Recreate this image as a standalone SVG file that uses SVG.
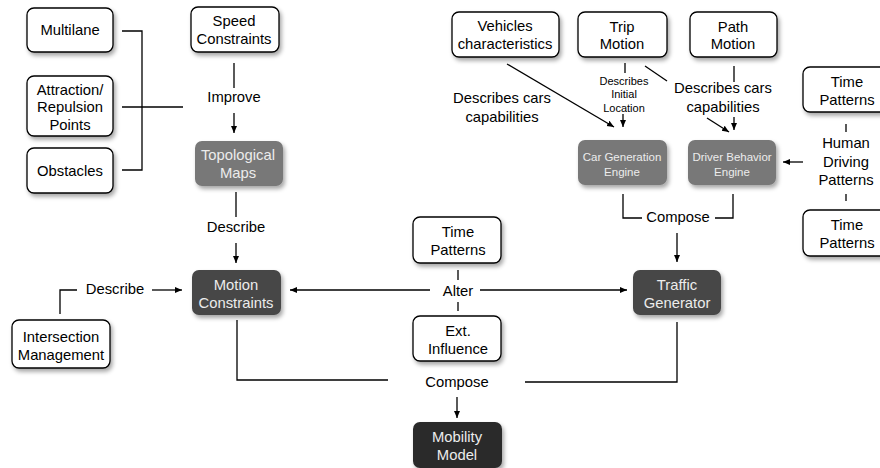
<svg xmlns="http://www.w3.org/2000/svg" width="880" height="468" viewBox="0 0 880 468">
<defs>
<filter id="sh" x="-20%" y="-20%" width="150%" height="160%">
<feDropShadow dx="2" dy="3" stdDeviation="2" flood-color="#000" flood-opacity="0.35"/>
</filter>
<marker id="ah" markerWidth="8" markerHeight="8" refX="7" refY="4" orient="auto" markerUnits="userSpaceOnUse">
<path d="M0,1 L7,4 L0,7 Z" fill="#000"/>
</marker>
<style>
text{font-family:"Liberation Sans",Arial,sans-serif;font-size:14.8px;text-anchor:middle;fill:#000}
.w{fill:#fff;stroke:#000;stroke-width:1.3}
.g{fill:#787878;stroke:none}
.d{fill:#474747;stroke:none}
.k{fill:#2a2a2a;stroke:none}
.lt{fill:#ececec}
.sm{font-size:11.5px}
.xs{font-size:11px}
.c{fill:none;stroke:#000;stroke-width:1.3}
.a{fill:none;stroke:#000;stroke-width:1.3;marker-end:url(#ah)}
</style>
</defs>

<g id="connectors">
<path class="c" d="M122,31 H142 V170 H122"/>
<path class="c" d="M122,107 H183"/>
<path class="c" d="M234,63 V88"/>
<path class="a" d="M234,113 V133"/>
<path class="c" d="M236,192 V217"/>
<path class="a" d="M236,243 V263"/>
<path class="c" d="M60,314 V290 H77"/>
<path class="a" d="M152,290 H182"/>
<path class="a" d="M430,290 H290"/>
<path class="a" d="M480,290 H627"/>
<path class="c" d="M458,270 V280"/>
<path class="c" d="M458,302 V311"/>
<path class="c" d="M237,320 V380 H388"/>
<path class="c" d="M525,382 H677 V322"/>
<path class="a" d="M457,397 V418"/>
<path class="c" d="M623,194 V218 H642"/>
<path class="c" d="M715,218 H733 V194"/>
<path class="a" d="M677,233 V262"/>
<path class="a" d="M803,162 H783"/>
<path class="c" d="M846,124 V132"/>
<path class="c" d="M846,194 V201"/>
<path class="a" d="M507,64 L614,127"/>
<path class="c" d="M625,63 V73"/>
<path class="a" d="M623,114 V127"/>
<path class="c" d="M645,66 L667,81"/>
<path class="a" d="M707,118 L729,132"/>
<path class="c" d="M734,66 V82"/>
<path class="a" d="M734,117 V130"/>
</g>

<g id="multilane"><rect class="w" filter="url(#sh)" x="27" y="8" width="86" height="44" rx="7"/><text x="70" y="35">Multilane</text></g>
<g id="attraction"><rect class="w" filter="url(#sh)" x="27" y="76" width="86" height="60" rx="7"/><text x="70" y="95">Attraction/</text><text x="70" y="112">Repulsion</text><text x="70" y="130">Points</text></g>
<g id="obstacles"><rect class="w" filter="url(#sh)" x="27" y="148" width="86" height="45" rx="7"/><text x="70" y="176">Obstacles</text></g>
<g id="speed"><rect class="w" filter="url(#sh)" x="191" y="7" width="88" height="45" rx="7"/><text x="234" y="26">Speed</text><text x="234" y="44">Constraints</text></g>
<text x="234" y="102">Improve</text>
<g id="topological"><rect class="g" filter="url(#sh)" x="195" y="141" width="88" height="45" rx="7"/><text class="lt" x="238" y="160">Topological</text><text class="lt" x="238" y="178">Maps</text></g>
<text x="236" y="232">Describe</text>
<g id="motion"><rect class="d" filter="url(#sh)" x="192" y="270" width="89" height="45" rx="7"/><text class="lt" x="236" y="290">Motion</text><text class="lt" x="236" y="308">Constraints</text></g>
<text x="115" y="294">Describe</text>
<g id="intersection"><rect class="w" filter="url(#sh)" x="12" y="320" width="98" height="48" rx="7"/><text x="61" y="342">Intersection</text><text x="61" y="360">Management</text></g>
<g id="timecenter"><rect class="w" filter="url(#sh)" x="413" y="217" width="88" height="46" rx="7"/><text x="458" y="237">Time</text><text x="458" y="255">Patterns</text></g>
<text x="458" y="296">Alter</text>
<g id="ext"><rect class="w" filter="url(#sh)" x="413" y="316" width="88" height="45" rx="7"/><text x="458" y="336">Ext.</text><text x="458" y="354">Influence</text></g>
<text x="457" y="387">Compose</text>
<g id="mobility"><rect class="k" filter="url(#sh)" x="413" y="422" width="89" height="46" rx="7"/><text class="lt" x="457" y="442">Mobility</text><text class="lt" x="457" y="460">Model</text></g>
<g id="traffic"><rect class="d" filter="url(#sh)" x="633" y="270" width="88" height="45" rx="7"/><text class="lt" x="677" y="290">Traffic</text><text class="lt" x="677" y="308">Generator</text></g>
<text x="678" y="222">Compose</text>
<g id="cargen"><rect class="g" filter="url(#sh)" x="578" y="140" width="89" height="45" rx="7"/><text class="lt sm" x="622" y="161">Car Generation</text><text class="lt sm" x="622" y="176">Engine</text></g>
<g id="driver"><rect class="g" filter="url(#sh)" x="688" y="140" width="88" height="45" rx="7"/><text class="lt sm" x="732" y="161">Driver Behavior</text><text class="lt sm" x="732" y="176">Engine</text></g>
<text x="846" y="148">Human</text><text x="846" y="167">Driving</text><text x="846" y="185">Patterns</text>
<g id="timetop"><rect class="w" filter="url(#sh)" x="803" y="67" width="88" height="45" rx="7"/><text x="847" y="87">Time</text><text x="847" y="105">Patterns</text></g>
<g id="timebottom"><rect class="w" filter="url(#sh)" x="803" y="210" width="88" height="46" rx="7"/><text x="847" y="230">Time</text><text x="847" y="248">Patterns</text></g>
<g id="vehicles"><rect class="w" filter="url(#sh)" x="452" y="12" width="107" height="45" rx="7"/><text x="505" y="31">Vehicles</text><text x="505" y="49">characteristics</text></g>
<g id="trip"><rect class="w" filter="url(#sh)" x="578" y="12" width="89" height="45" rx="7"/><text x="622" y="32">Trip</text><text x="622" y="49">Motion</text></g>
<g id="path"><rect class="w" filter="url(#sh)" x="690" y="12" width="87" height="45" rx="7"/><text x="733" y="32">Path</text><text x="733" y="49">Motion</text></g>
<text x="502" y="103">Describes cars</text><text x="502" y="122">capabilities</text>
<text class="xs" x="624" y="85">Describes</text><text class="xs" x="624" y="98">Initial</text><text class="xs" x="624" y="112">Location</text>
<text x="723" y="93">Describes cars</text><text x="723" y="112">capabilities</text>
</svg>
